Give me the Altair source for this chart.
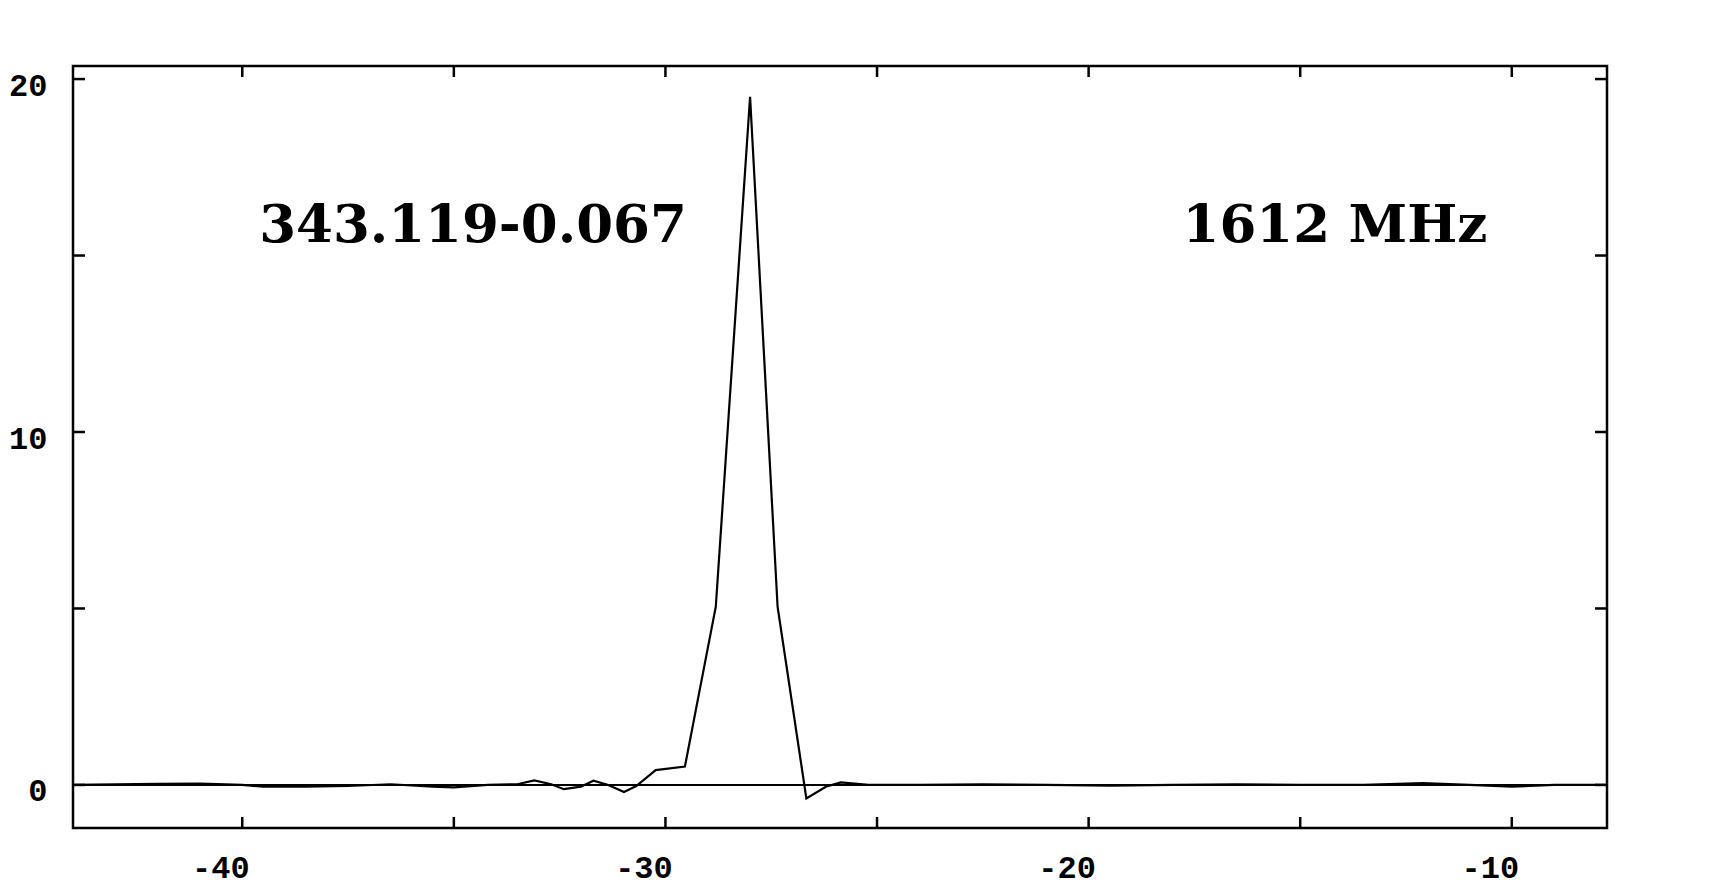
import altair as alt
import pandas as pd

# Spectrum (velocity km/s, flux density Jy)
velocity = [-44.0, -43.0, -42.0, -41.0, -40.0, -39.5, -38.5, -37.5, -36.5, -35.5,
            -35.0, -34.2, -33.5, -33.1, -32.7, -32.4, -32.0, -31.7, -31.35, -30.98,
            -30.69, -30.23, -29.54, -28.81, -28.0, -27.35, -26.67, -26.21, -25.86,
            -25.2, -24.0, -22.5, -21.0, -19.5, -18.0, -16.5, -15.0, -13.5, -12.1,
            -11.0, -10.0, -9.0, -7.75]
flux = [0.0, 0.02, 0.03, 0.04, 0.0, -0.05, -0.05, -0.03, 0.02, -0.05,
        -0.07, 0.0, 0.02, 0.13, 0.02, -0.12, -0.05, 0.12, 0.0, -0.2,
        -0.03, 0.42, 0.52, 5.05, 19.5, 5.05, -0.38, -0.05, 0.07,
        0.0, 0.0, 0.02, 0.0, -0.02, 0.0, 0.02, 0.0, 0.0, 0.05,
        0.0, -0.05, 0.0, 0.0]

x_ticks = [-40, -35, -30, -25, -20, -15, -10]
x_labels = [-40, -30, -20, -10]
y_ticks = [0, 5, 10, 15, 20]
y_labels = [0, 10, 20]
source_name = ["343.119-0.067"]
frequency = ["1612  MHz"]

W, H = 1534, 762
XDOM = [-44.0, -7.75]
YDOM = [-1.22, 20.37]

spec = pd.DataFrame({"v": velocity, "s": flux})
xs = alt.Scale(domain=XDOM, nice=False, zero=False)
ys = alt.Scale(domain=YDOM, nice=False, zero=False)

lab_font = "Liberation Mono"

xaxis = alt.Axis(values=x_labels, ticks=False, domain=False, grid=False, title="",
                 labelFont=lab_font, labelFontWeight="bold", labelFontSize=32,
                 labelColor="black", labelOffset=-22, labelPadding=24,
                 labelExpr="datum.value < 0 ? '-' + abs(datum.value) : '' + datum.value")
yaxis = alt.Axis(values=y_labels, ticks=False, domain=False, grid=False, title="",
                 labelFont=lab_font, labelFontWeight="bold", labelFontSize=32,
                 labelColor="black", labelOffset=6, labelPadding=26,
                 labelExpr="'' + datum.value")

line = alt.Chart(spec).mark_line(color="black", strokeWidth=2.2).encode(
    x=alt.X("v:Q", scale=xs, axis=xaxis),
    y=alt.Y("s:Q", scale=ys, axis=yaxis),
)

zero = alt.Chart(pd.DataFrame({"z": [0]})).mark_rule(color="black", strokeWidth=2).encode(
    y=alt.Y("z:Q", scale=ys), x=alt.value(0), x2=alt.value(W)
)

xt = pd.DataFrame({"t": x_ticks})
yt = pd.DataFrame({"t": y_ticks})
tick_style = dict(color="black", strokeWidth=2.5)
bot = alt.Chart(xt).mark_rule(**tick_style).encode(
    x=alt.X("t:Q", scale=xs), y=alt.value(H), y2=alt.value(H - 11))
top = alt.Chart(xt).mark_rule(**tick_style).encode(
    x=alt.X("t:Q", scale=xs), y=alt.value(0), y2=alt.value(11))
left = alt.Chart(yt).mark_rule(**tick_style).encode(
    y=alt.Y("t:Q", scale=ys), x=alt.value(0), x2=alt.value(12))
right = alt.Chart(yt).mark_rule(**tick_style).encode(
    y=alt.Y("t:Q", scale=ys), x=alt.value(W), x2=alt.value(W - 12))

txt1 = alt.Chart(pd.DataFrame({"label": source_name})).mark_text(
    font="DejaVu Serif", fontWeight="bold", fontSize=53, color="black",
    align="center", baseline="middle").encode(
    text="label:N", x=alt.value(400), y=alt.value(160))
txt2 = alt.Chart(pd.DataFrame({"label": frequency})).mark_text(
    font="DejaVu Serif", fontWeight="bold", fontSize=53, color="black",
    align="center", baseline="middle").encode(
    text="label:N", x=alt.value(1262), y=alt.value(160))

chart = alt.layer(zero, line, bot, top, left, right, txt1, txt2).properties(
    width=W, height=H,
    autosize=alt.AutoSizeParams(type="none"),
    padding={"left": 65, "top": 58, "right": 90, "bottom": 62},
    background="white",
).configure_view(stroke="black", strokeWidth=2.5)

chart.save("out.html", embed_options={"renderer": "svg", "actions": False})
